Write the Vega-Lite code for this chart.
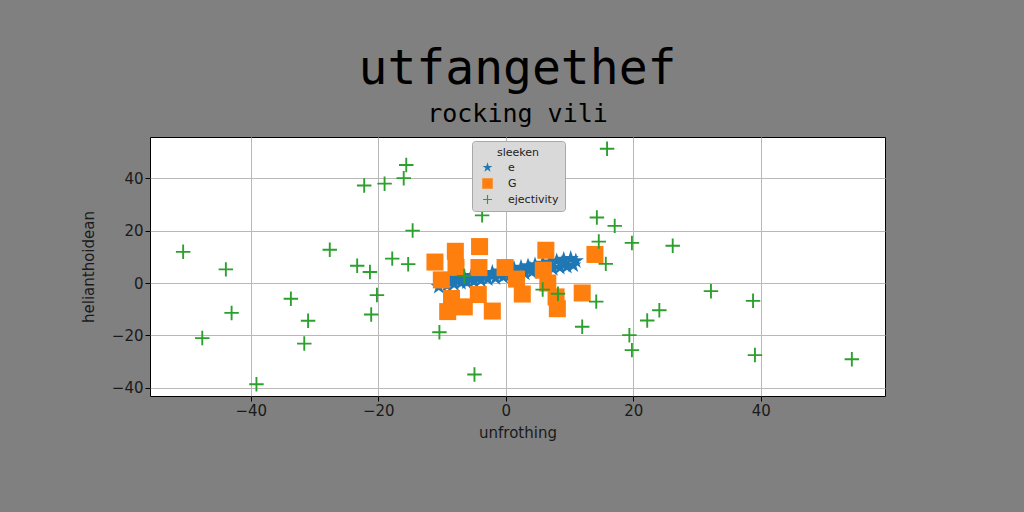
{
  "$schema": "https://vega.github.io/schema/vega-lite/v6.json",
  "width": 735,
  "height": 259,
  "autosize": {"type": "none"},
  "padding": {"left": 150, "top": 137, "right": 139, "bottom": 116},
  "background": "#808080",
  "title": {
    "text": "utfangethef",
    "subtitle": "rocking vili",
    "font": "DejaVu Sans Mono",
    "fontSize": 48,
    "fontWeight": "normal",
    "subtitleFont": "DejaVu Sans Mono",
    "subtitleFontSize": 25,
    "color": "black",
    "subtitleColor": "black",
    "anchor": "middle",
    "offset": 10,
    "subtitlePadding": 8
  },
  "data": {
    "values": [
      {"series": "e", "x": -10.5, "y": -1.4}, {"series": "e", "x": -9.8, "y": 1.2}, {"series": "e", "x": -9.2, "y": -0.9},
      {"series": "e", "x": -8.7, "y": 1.5}, {"series": "e", "x": -8.1, "y": -0.4}, {"series": "e", "x": -7.6, "y": 2.0},
      {"series": "e", "x": -7.0, "y": 0.1}, {"series": "e", "x": -6.5, "y": 2.3}, {"series": "e", "x": -6.1, "y": 0.3},
      {"series": "e", "x": -5.4, "y": 2.8}, {"series": "e", "x": -5.0, "y": 0.6}, {"series": "e", "x": -4.3, "y": 3.1},
      {"series": "e", "x": -3.9, "y": 1.1}, {"series": "e", "x": -3.2, "y": 3.6}, {"series": "e", "x": -2.8, "y": 1.5},
      {"series": "e", "x": -2.1, "y": 4.0}, {"series": "e", "x": -1.6, "y": 1.9}, {"series": "e", "x": -1.0, "y": 4.5},
      {"series": "e", "x": -0.4, "y": 2.4}, {"series": "e", "x": 0.2, "y": 5.0}, {"series": "e", "x": 0.7, "y": 2.9},
      {"series": "e", "x": 1.3, "y": 5.6}, {"series": "e", "x": 1.9, "y": 3.3}, {"series": "e", "x": 2.4, "y": 6.0},
      {"series": "e", "x": 3.0, "y": 3.7}, {"series": "e", "x": 3.5, "y": 6.5}, {"series": "e", "x": 4.1, "y": 4.2},
      {"series": "e", "x": 4.6, "y": 6.9}, {"series": "e", "x": 5.2, "y": 4.7}, {"series": "e", "x": 5.8, "y": 7.5},
      {"series": "e", "x": 6.3, "y": 5.0}, {"series": "e", "x": 6.9, "y": 8.0}, {"series": "e", "x": 7.4, "y": 5.4},
      {"series": "e", "x": 8.0, "y": 8.4}, {"series": "e", "x": 8.5, "y": 5.9}, {"series": "e", "x": 9.1, "y": 9.0},
      {"series": "e", "x": 9.6, "y": 6.3}, {"series": "e", "x": 10.2, "y": 9.3}, {"series": "e", "x": 10.6, "y": 6.8},
      {"series": "e", "x": 11.0, "y": 8.4}, {"series": "e", "x": -1.2, "y": 3.3}, {"series": "e", "x": 3.8, "y": 5.4},
      {"series": "e", "x": -6.8, "y": 1.2}, {"series": "e", "x": 8.8, "y": 7.4},
      {"series": "G", "x": -11.1, "y": 8.0}, {"series": "G", "x": -7.9, "y": 12.1}, {"series": "G", "x": -7.8, "y": 6.0},
      {"series": "G", "x": -4.1, "y": 13.9}, {"series": "G", "x": -4.2, "y": 5.9}, {"series": "G", "x": -10.1, "y": 1.2},
      {"series": "G", "x": -0.1, "y": 5.9}, {"series": "G", "x": 1.7, "y": 1.5}, {"series": "G", "x": 6.3, "y": 12.5},
      {"series": "G", "x": 5.9, "y": 4.9}, {"series": "G", "x": 6.6, "y": 0.0}, {"series": "G", "x": 14.0, "y": 10.9},
      {"series": "G", "x": -8.5, "y": -5.9}, {"series": "G", "x": -9.1, "y": -10.9}, {"series": "G", "x": -6.5, "y": -9.1},
      {"series": "G", "x": -4.3, "y": -4.4}, {"series": "G", "x": -2.1, "y": -10.7}, {"series": "G", "x": 2.6, "y": -4.2},
      {"series": "G", "x": 8.1, "y": -9.8}, {"series": "G", "x": 12.0, "y": -3.8}, {"series": "G", "x": 7.9, "y": -5.3},
      {"series": "ejectivity", "x": -15.6, "y": 45.0}, {"series": "ejectivity", "x": -16.0, "y": 40.0},
      {"series": "ejectivity", "x": -19.0, "y": 37.9}, {"series": "ejectivity", "x": -22.2, "y": 37.2},
      {"series": "ejectivity", "x": -14.6, "y": 20.0}, {"series": "ejectivity", "x": -50.6, "y": 11.9},
      {"series": "ejectivity", "x": -27.6, "y": 12.7}, {"series": "ejectivity", "x": -43.9, "y": 5.2},
      {"series": "ejectivity", "x": -23.3, "y": 6.6}, {"series": "ejectivity", "x": -21.3, "y": 4.2},
      {"series": "ejectivity", "x": -17.8, "y": 9.3}, {"series": "ejectivity", "x": -15.3, "y": 7.2},
      {"series": "ejectivity", "x": -33.7, "y": -6.0}, {"series": "ejectivity", "x": -20.2, "y": -4.6},
      {"series": "ejectivity", "x": -43.0, "y": -11.4}, {"series": "ejectivity", "x": -31.0, "y": -14.4},
      {"series": "ejectivity", "x": -21.1, "y": -12.0}, {"series": "ejectivity", "x": -47.6, "y": -21.0},
      {"series": "ejectivity", "x": -31.6, "y": -23.1}, {"series": "ejectivity", "x": -39.1, "y": -38.6},
      {"series": "ejectivity", "x": -10.4, "y": -18.8}, {"series": "ejectivity", "x": 15.9, "y": 51.2},
      {"series": "ejectivity", "x": 14.3, "y": 25.0}, {"series": "ejectivity", "x": 17.1, "y": 21.8},
      {"series": "ejectivity", "x": 14.6, "y": 15.8}, {"series": "ejectivity", "x": 19.8, "y": 15.3},
      {"series": "ejectivity", "x": 26.2, "y": 14.2}, {"series": "ejectivity", "x": 15.7, "y": 7.3},
      {"series": "ejectivity", "x": 14.2, "y": -7.1}, {"series": "ejectivity", "x": 32.2, "y": -3.1},
      {"series": "ejectivity", "x": 38.8, "y": -6.8}, {"series": "ejectivity", "x": 12.0, "y": -16.7},
      {"series": "ejectivity", "x": 24.1, "y": -10.4}, {"series": "ejectivity", "x": 22.2, "y": -14.3},
      {"series": "ejectivity", "x": 19.4, "y": -19.9}, {"series": "ejectivity", "x": 19.8, "y": -25.6},
      {"series": "ejectivity", "x": 39.1, "y": -27.5}, {"series": "ejectivity", "x": 54.3, "y": -29.1},
      {"series": "ejectivity", "x": -3.7, "y": 25.8}, {"series": "ejectivity", "x": -6.5, "y": 2.7},
      {"series": "ejectivity", "x": 5.8, "y": -2.5}, {"series": "ejectivity", "x": 8.2, "y": -4.1},
      {"series": "ejectivity", "x": -4.9, "y": -34.9}
    ]
  },
  "mark": {"type": "point", "filled": true, "opacity": 1, "strokeWidth": 0, "size": 290},
  "encoding": {
    "x": {
      "field": "x", "type": "quantitative",
      "scale": {"domain": [-55.8, 59.5], "nice": false, "zero": false},
      "axis": {"title": "unfrothing", "values": [-40, -20, 0, 20, 40], "titlePadding": 7}
    },
    "y": {
      "field": "y", "type": "quantitative",
      "scale": {"domain": [-43.1, 55.7], "nice": false, "zero": false},
      "axis": {"title": "helianthoidean", "values": [-40, -20, 0, 20, 40], "titlePadding": 15}
    },
    "color": {
      "field": "series", "type": "nominal",
      "scale": {"domain": ["e", "G", "ejectivity"], "range": ["#1f77b4", "#ff7f0e", "#2ca02c"]},
      "legend": {
        "title": "sleeken",
        "orient": "none",
        "legendX": 322,
        "legendY": 4,
        "fillColor": "#d9d9d9",
        "strokeColor": "#a8a8a8",
        "padding": 6,
        "cornerRadius": 3,
        "titleAnchor": "middle",
        "titleFont": "DejaVu Sans",
        "titleFontSize": 11,
        "titleFontWeight": "normal",
        "titleColor": "#222",
        "titlePadding": 4,
        "labelFont": "DejaVu Sans",
        "labelFontSize": 11,
        "labelColor": "#222",
        "symbolSize": 110,
        "symbolOffset": 4,
        "rowPadding": 4,
        "labelOffset": 15,
        "symbolOpacity": 1,
        "symbolStrokeWidth": 0
      }
    },
    "shape": {
      "field": "series", "type": "nominal",
      "scale": {
        "domain": ["e", "G", "ejectivity"],
        "range": [
          "M0,-1L0.2245,-0.309L0.951,-0.309L0.363,0.118L0.588,0.809L0,0.382L-0.588,0.809L-0.363,0.118L-0.951,-0.309L-0.2245,-0.309Z",
          "M-1,-1L1,-1L1,1L-1,1Z",
          "M-0.85,-0.11L-0.11,-0.11L-0.11,-0.85L0.11,-0.85L0.11,-0.11L0.85,-0.11L0.85,0.11L0.11,0.11L0.11,0.85L-0.11,0.85L-0.11,0.11L-0.85,0.11Z"
        ]
      }
    }
  },
  "config": {
    "view": {"fill": "white", "stroke": "black", "strokeWidth": 1},
    "axis": {
      "labelFont": "DejaVu Sans",
      "labelFontSize": 15,
      "labelColor": "#1a1a1a",
      "titleFont": "DejaVu Sans",
      "titleFontSize": 15,
      "titleFontWeight": "normal",
      "titleColor": "#1a1a1a",
      "tickColor": "black",
      "tickSize": 5,
      "domain": false,
      "gridColor": "#b8b8b8",
      "gridWidth": 1
    }
  }
}
